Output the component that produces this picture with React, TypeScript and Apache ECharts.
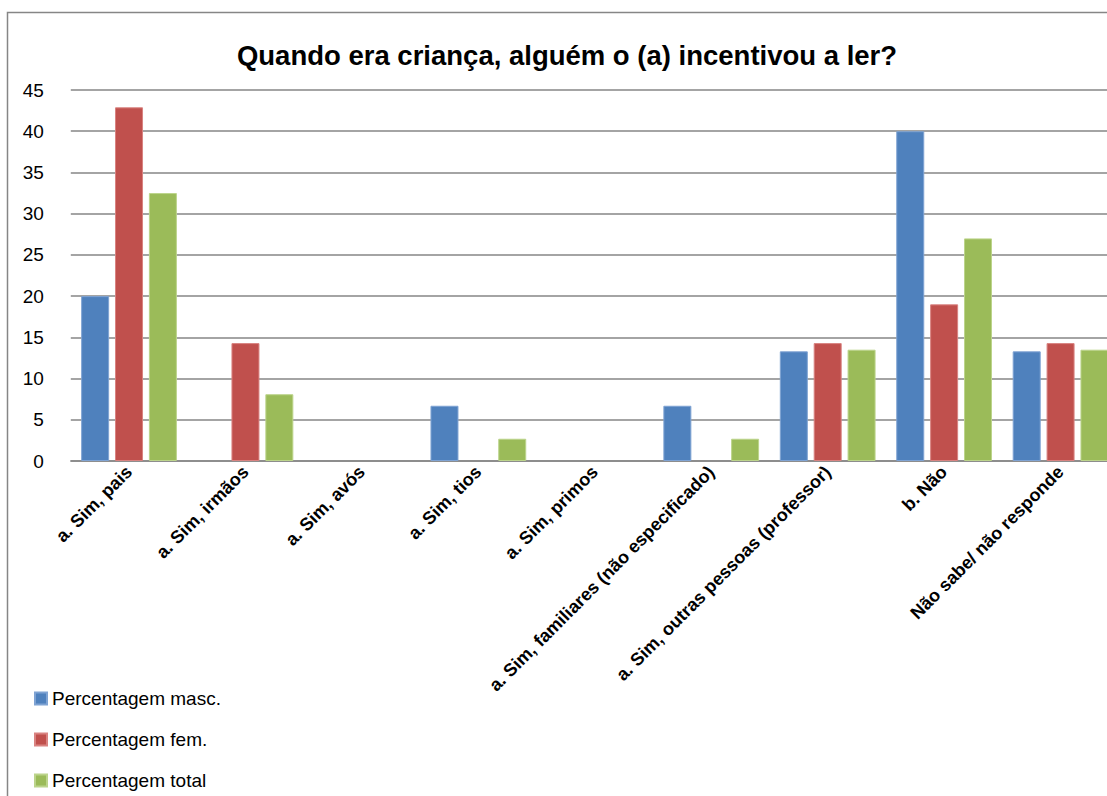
import React, { useEffect, useRef } from "react";
import * as echarts from "echarts";

const categories = [
  "a. Sim, pais",
  "a. Sim, irmãos",
  "a. Sim, avós",
  "a. Sim, tios",
  "a. Sim, primos",
  "a. Sim, familiares (não especificado)",
  "a. Sim, outras pessoas (professor)",
  "b. Não",
  "Não sabe/ não responde",
];
const masc = [20, 0, 0, 6.7, 0, 6.7, 13.3, 40, 13.3];
const fem = [42.9, 14.3, 0, 0, 0, 0, 14.3, 19, 14.3];
const total = [32.5, 8.1, 0, 2.7, 0, 2.7, 13.5, 27, 13.5];
const seriesNames = ["Percentagem masc.", "Percentagem fem.", "Percentagem total"];
const colors = ["#4F81BD", "#C0504D", "#9BBB59"];
const borderColors = ["#7FA3D3", "#D98381", "#BCD48B"];
const yTicks = { min: 0, max: 45, interval: 5 };

export default function App() {
  const ref = useRef<HTMLDivElement>(null);
  useEffect(() => {
    if (!ref.current) return;
    const chart = echarts.init(ref.current, undefined, { renderer: "svg" });
    const font = "'Liberation Sans', Arial, sans-serif";
    const data = [masc, fem, total];
    chart.setOption({
      animation: false,
      backgroundColor: "#fff",
      textStyle: { fontFamily: font },
      title: {
        text: "Quando era criança, alguém o (a) incentivou a ler?",
        left: 562,
        textAlign: "center",
        top: 36,
        textStyle: { fontSize: 27.5, fontWeight: "bold", color: "#000", fontFamily: font },
      },
      graphic: [
        {
          type: "rect",
          shape: { x: 7.5, y: 12.5, width: 1200, height: 900 },
          style: { fill: "none", stroke: "#868686", lineWidth: 1.5 },
          silent: true,
          z: -1,
        },
      ],
      legend: {
        orient: "vertical",
        left: 34,
        top: 689,
        padding: 0,
        itemWidth: 12,
        itemHeight: 12,
        itemGap: 22,
        icon: "rect",
        textStyle: { fontSize: 19, color: "#000", fontFamily: font },
        data: seriesNames,
      },
      grid: { left: 70.8, top: 90, width: 1048, height: 371 },
      xAxis: {
        type: "category",
        data: categories,
        axisLine: { lineStyle: { color: "#868686", width: 1.5 } },
        axisTick: { show: false },
        axisLabel: {
          rotate: 45,
          interval: 0,
          margin: 8,
          fontSize: 18,
          fontWeight: "bold",
          color: "#000",
          fontFamily: font,
        },
      },
      yAxis: {
        type: "value",
        min: yTicks.min,
        max: yTicks.max,
        interval: yTicks.interval,
        axisLine: { show: false },
        axisTick: { show: false },
        splitLine: { lineStyle: { color: "#868686", width: 1.5 } },
        axisLabel: { fontSize: 19, color: "#000", margin: 27, fontFamily: font },
      },
      series: seriesNames.map((name, i) => ({
        name,
        type: "bar",
        data: data[i].map((v) => (v === 0 ? { value: v, itemStyle: { borderWidth: 0 } } : v)),
        barWidth: 28,
        barGap: "21%",
        itemStyle: { color: colors[i], borderColor: borderColors[i], borderWidth: 1 },
      })),
    });
    return () => chart.dispose();
  }, []);
  return (
    <div style={{ position: "fixed", left: 0, top: 0, width: 1107, height: 796, overflow: "hidden" }}>
      <div ref={ref} style={{ width: 1160, height: 820 }} />
    </div>
  );
}
